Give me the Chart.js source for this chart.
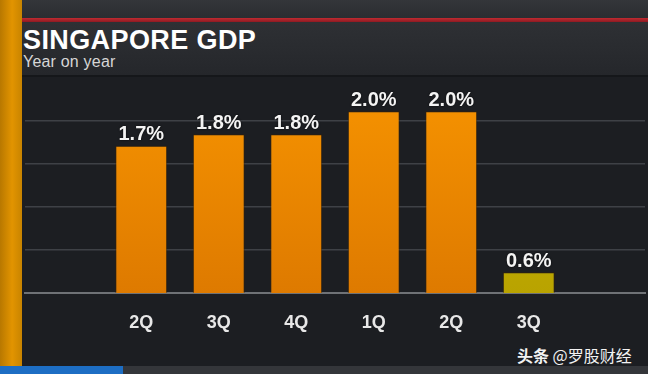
<!DOCTYPE html>
<html>
<head>
<meta charset="utf-8">
<script src="https://cdn.jsdelivr.net/npm/chart.js@4"></script>
<style>
  body { margin: 0; width: 648px; height: 374px; overflow: hidden; background: #1c1e22; position: relative; font-family: "Liberation Sans", Arial, sans-serif; }
  .top { position: absolute; left: 0; top: 0; width: 648px; height: 18px; background: linear-gradient(#34363a, #2b2d31); }
  .redline { position: absolute; left: 0; top: 18px; width: 648px; height: 4px; background: linear-gradient(#c02a30, #8e1a22); }
  .header { position: absolute; left: 0; top: 22px; width: 648px; height: 53px; background: linear-gradient(#2e3034, #25272b); border-bottom: 2px solid #15171a; }
  .orange { position: absolute; left: 0; top: 0; width: 22px; height: 374px; background: linear-gradient(90deg, #b87800, #e29400 55%, #c88400); }
  .bottom { position: absolute; left: 0; top: 366px; width: 648px; height: 8px; background: #34363a; }
  .bottom .blue { position: absolute; left: 0; top: 0; width: 123px; height: 8px; background: #1d6ec4; }
  .title { position: absolute; left: 23px; top: 25px; color: #fff; font-weight: bold; font-size: 27px; letter-spacing: 0.4px; }
  .sub { position: absolute; left: 23px; top: 53px; color: #d6d6d6; font-size: 16px; letter-spacing: 0.2px; }
  .mark { position: absolute; left: 517px; top: 343px; color: #f2f2f2; font-size: 16px; font-family: "Noto Sans CJK SC", sans-serif; }
  .mark b { font-weight: bold; }
  canvas { position: absolute; left: 0; top: 0; }
</style>
</head>
<body>
<div class="top"></div>
<div class="redline"></div>
<div class="header"></div>
<div class="orange"></div>
<div class="bottom"><div class="blue"></div></div>
<div class="title">SINGAPORE GDP</div>
<div class="sub">Year on year</div>
<div class="mark"><b>头条</b> @罗股财经</div>
<canvas id="chart" width="648" height="374"></canvas>
<script>
// quarters shown on the axis
let quarters = ["2Q", "3Q", "4Q", "1Q", "2Q", "3Q"];
// GDP growth, year on year, %
let gdp = [1.7, 1.8, 1.8, 2.0, 2.0, 0.6];
// last quarter is highlighted in yellow
let highlight = [false, false, false, false, false, true];

// an empty slot each side, like the picture
let labels = [""].concat(quarters, [""]);
let values = [null].concat(gdp, [null]);
let marks = [false].concat(highlight, [false]);

function barColor(c) {
  let area = c.chart.chartArea;
  if (!area) return "#f08c00";
  let g = c.chart.ctx.createLinearGradient(0, area.top, 0, area.bottom);
  if (marks[c.dataIndex]) {
    g.addColorStop(0, "#cdb800");
    g.addColorStop(1, "#b9a300");
  } else {
    g.addColorStop(0, "#f79400");
    g.addColorStop(1, "#de7a00");
  }
  return g;
}

// value labels above the bars
let valueLabels = {
  id: "valueLabels",
  afterDatasetsDraw(chart) {
    let ctx = chart.ctx;
    let meta = chart.getDatasetMeta(0);
    ctx.save();
    ctx.font = "bold 20px 'Liberation Sans', Arial, sans-serif";
    ctx.fillStyle = "#f4f4f4";
    ctx.textAlign = "center";
    ctx.textBaseline = "bottom";
    ctx.shadowColor = "rgba(0,0,0,0.8)";
    ctx.shadowBlur = 2;
    meta.data.forEach((bar, i) => {
      if (values[i] == null) return;
      ctx.fillText(values[i].toFixed(1) + "%", bar.x, bar.y - 1);
    });
    ctx.restore();
  }
};

chart = new Chart(document.getElementById("chart"), {
  type: "bar",
  data: {
    labels: labels,
    datasets: [{
      data: values,
      backgroundColor: barColor,
      borderColor: "rgba(60,35,0,0.6)",
      borderWidth: 1,
      categoryPercentage: 1,
      barPercentage: 0.67
    }]
  },
  options: {
    responsive: false,
    animation: false,
    layout: { padding: { left: 25, right: 3, top: 78, bottom: 0 } },
    plugins: { legend: { display: false }, tooltip: { enabled: false } },
    scales: {
      x: {
        grid: { display: false, drawTicks: false },
        border: { display: true, color: "#6f7276", width: 2 },
        ticks: { color: "#e8e8e8", padding: 19, font: { family: "'Liberation Sans', Arial, sans-serif", size: 18, weight: "bold" } },
        afterFit: s => { s.height = 81; }
      },
      y: {
        // the broadcast axis does not start at zero
        min: 0.42,
        max: 2.29,
        ticks: { display: false, count: 6 },
        border: { display: false },
        grid: {
          drawTicks: false,
          lineWidth: 1.5,
          color: c => (c.index > 0 && c.index < 5) ? "#3e4146" : "rgba(0,0,0,0)"
        },
        afterFit: s => { s.width = 0; }
      }
    }
  },
  plugins: [valueLabels]
});
</script>
</body>
</html>
